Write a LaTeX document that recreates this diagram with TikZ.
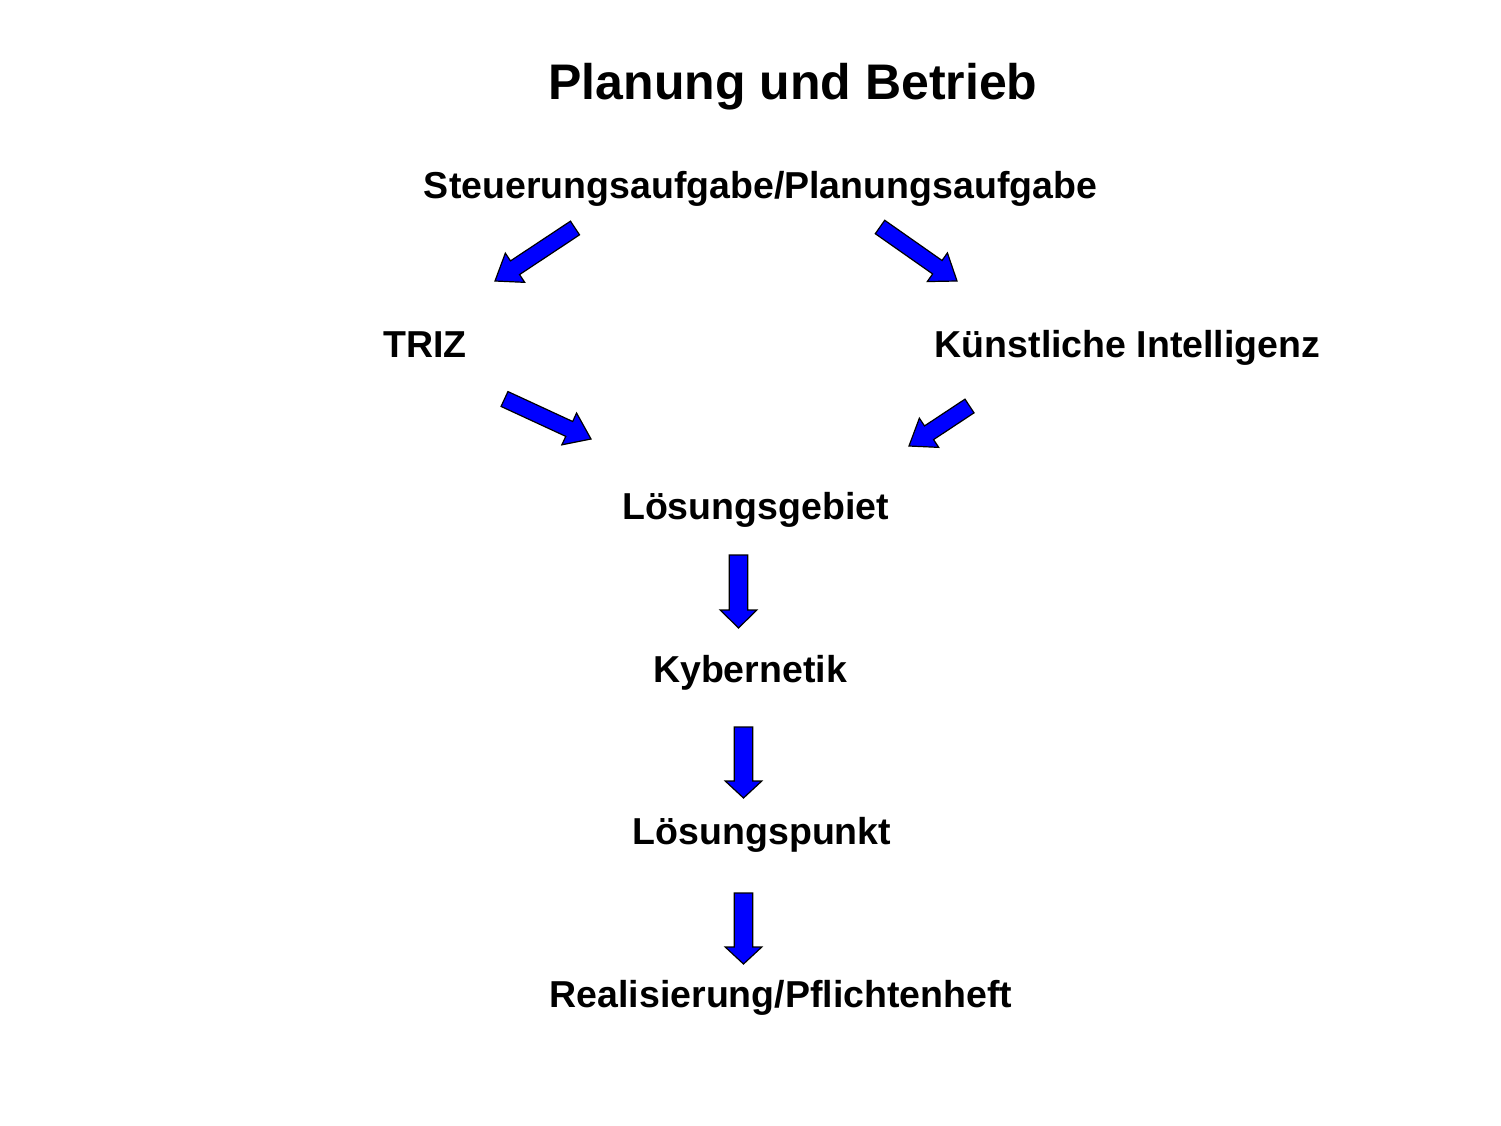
\documentclass[tikz,border=0pt]{standalone}
\usepackage{fontspec}
\setmainfont{Liberation Sans}
\usetikzlibrary{calc}
\definecolor{arrowblue}{RGB}{0,0,255}
\tikzset{
  lbl/.style={anchor=base, inner sep=0pt, font=\fontsize{37.5}{40}\selectfont\bfseries},
  ttl/.style={anchor=base, inner sep=0pt, font=\fontsize{50}{56}\selectfont\bfseries},
  blockarrow/.style={draw=black, line width=1.2pt, fill=arrowblue, line join=miter}
}
% \barrow{tail}{tip}{shaft half width}{head half width}{head length}
\newcommand{\barrow}[5]{%
  \coordinate (hb) at ($(#2)!#5!(#1)$);
  \path[blockarrow]
    ($(#1)!#3!90:(#2)$) -- ($(hb)!#3!-90:(#1)$) -- ($(hb)!#4!-90:(#1)$) --
    (#2) -- ($(hb)!#4!90:(#1)$) -- ($(hb)!#3!90:(#1)$) --
    ($(#1)!#3!-90:(#2)$) -- cycle;
}
\begin{document}
\begin{tikzpicture}[x=1pt,y=-1pt]
\useasboundingbox[fill=white] (0,0) rectangle (1501,1126);
\node[ttl] (title) at (793,100) {Planung und Betrieb};
\node[lbl] (steu) at (760.5,198) {Steuerungsaufgabe/Planungsaufgabe};
\node[lbl] (triz) at (425,357) {TRIZ};
\node[lbl] (ki) at (1127.5,357) {Künstliche Intelligenz};
\node[lbl] (lg) at (755.5,519) {Lösungsgebiet};
\node[lbl] (kyb) at (750,682) {Kybernetik};
\node[lbl] (lp) at (762,844) {Lösungspunkt};
\node[lbl] (real) at (781,1007) {Realisierung/Pflichtenheft};
% arrow anchor coordinates
\coordinate (a1t) at (575,228);   \coordinate (a1h) at (495,281);
\coordinate (a2t) at (880,227);   \coordinate (a2h) at (957,281);
\coordinate (a3t) at (504.5,399); \coordinate (a3h) at (591,439);
\coordinate (a4t) at (969.5,406); \coordinate (a4h) at (909,446);
\coordinate (d1t) at (738.5,555); \coordinate (d1h) at (738.5,628);
\coordinate (d2t) at (743.5,727); \coordinate (d2h) at (743.5,798);
\coordinate (d3t) at (743.5,893); \coordinate (d3h) at (743.5,964);
\barrow{a1t}{a1h}{8.2pt}{17.5pt}{24pt}
\barrow{a2t}{a2h}{8.2pt}{17.5pt}{24pt}
\barrow{a3t}{a3h}{8.2pt}{17.5pt}{24pt}
\barrow{a4t}{a4h}{8.2pt}{17.5pt}{24pt}
\barrow{d1t}{d1h}{9.2pt}{18.3pt}{18pt}
\barrow{d2t}{d2h}{9.2pt}{18.3pt}{17pt}
\barrow{d3t}{d3h}{9.2pt}{18.3pt}{17pt}
\end{tikzpicture}
\end{document}
